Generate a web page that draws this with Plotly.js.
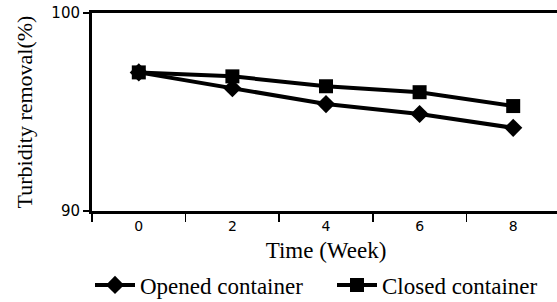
<!DOCTYPE html>
<html><head><meta charset="utf-8">
<script src="https://cdn.plot.ly/plotly-3.0.1.min.js"></script>
<style>html,body{margin:0;padding:0;overflow:hidden;background:#fff}</style>
</head><body>
<div id="chart" style="width:563px;height:302px"></div>
<script>
const weeks = ['0','2','4','6','8'];
const opened = [97.0, 96.2, 95.4, 94.9, 94.2];
const closed = [97.0, 96.8, 96.3, 96.0, 95.3];
const yTicks = [90, 100];

const traces = [
  {x: weeks, y: opened, name: 'Opened container', type: 'scatter', mode: 'lines+markers', legend: 'legend',
   line: {color: '#000', width: 4}, marker: {symbol: 'diamond', size: 14, color: '#000'}},
  {x: weeks, y: closed, name: 'Closed container', type: 'scatter', mode: 'lines+markers', legend: 'legend2',
   line: {color: '#000', width: 4}, marker: {symbol: 'square', size: 14, color: '#000'}}
];

const legFont = {family: 'Liberation Serif', size: 23, color: '#000'};
const layout = {
  width: 563, height: 302,
  margin: {l: 92, r: 3, t: 13, b: 91},
  paper_bgcolor: '#fff', plot_bgcolor: '#fff',
  showlegend: true,
  legend: {orientation: 'h', x: 90/563, xanchor: 'left', xref: 'container',
           y: 17/302, yanchor: 'middle', yref: 'container',
           font: legFont, itemwidth: 40, bgcolor: 'rgba(0,0,0,0)'},
  legend2: {orientation: 'h', x: 332/563, xanchor: 'left', xref: 'container',
           y: 17/302, yanchor: 'middle', yref: 'container',
           font: legFont, itemwidth: 40, bgcolor: 'rgba(0,0,0,0)'},
  xaxis: {type: 'category', range: [-0.5, 4.5], tickson: 'boundaries',
          ticks: 'outside', ticklen: 8, tickwidth: 1.5, tickcolor: '#000',
          showline: true, linecolor: '#000', linewidth: 3, mirror: true,
          showgrid: false, zeroline: false,
          tickfont: {family: 'DejaVu Sans', size: 14, color: '#000'},
          title: {text: 'Time (Week)', font: {family: 'Liberation Serif', size: 23, color: '#000'}, standoff: 19}},
  yaxis: {range: [90, 100], tickvals: yTicks, ticktext: yTicks.map(String), ticksuffix: '\u00a0\u00a0',
          ticks: 'outside', ticklen: 6, tickwidth: 1.5, tickcolor: '#000',
          showline: true, linecolor: '#000', linewidth: 3, mirror: true,
          showgrid: false, zeroline: false,
          tickfont: {family: 'DejaVu Sans', size: 15, color: '#000'},
          title: {text: 'Turbidity removal(%)', font: {family: 'Liberation Serif', size: 22, color: '#000'}, standoff: 13}}
};

Plotly.newPlot('chart', traces, layout, {displayModeBar: false, staticPlot: true});
</script>
</body></html>
